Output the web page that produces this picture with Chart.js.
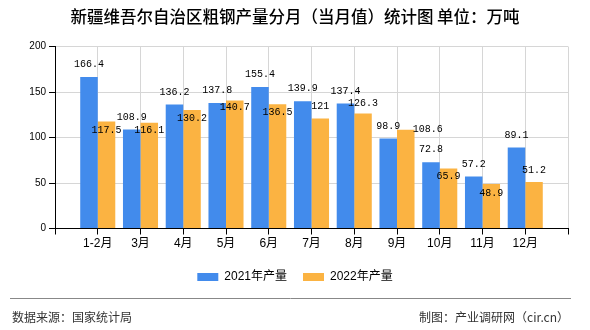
<!DOCTYPE html>
<html>
<head>
<meta charset="utf-8">
<script src="https://cdn.jsdelivr.net/npm/chart.js@4"></script>
<style>
html,body{margin:0;padding:0;background:#fff;}
#c{display:block;}
</style>
</head>
<body>
<canvas id="c" width="590" height="330"></canvas>
<script>
const titleText = '新疆维吾尔自治区粗钢产量分月（当月值）统计图 单位：万吨';
const categories = ['1-2月','3月','4月','5月','6月','7月','8月','9月','10月','11月','12月'];
const series2021 = [166.4,108.9,136.2,137.8,155.4,139.9,137.4,98.9,72.8,57.2,89.1];
const series2022 = [117.5,116.1,130.2,140.7,136.5,121,126.3,108.6,65.9,48.9,51.2];
const seriesNames = ['2021年产量','2022年产量'];
const yTicks = [0,50,100,150,200];
const sourceText = '数据来源：国家统计局';
const creditText = '制图：产业调研网（cir.cn）';

const CJK = "'Noto Sans CJK SC', sans-serif";
const BLUE = '#428BEC';
const ORANGE = '#FBB342';

// padded category axis: empty slot at each end
const labels = [''].concat(categories, ['']);
const pad = arr => [null].concat(arr, [null]);

const valueLabels = {
  id: 'valueLabels',
  afterDatasetsDraw(chart, args, opts) {
    const ctx = chart.ctx;
    ctx.save();
    ctx.font = "10px 'Liberation Mono', 'DejaVu Sans Mono', monospace";
    ctx.fillStyle = '#000';
    ctx.textAlign = 'center';
    ctx.textBaseline = 'middle';
    chart.data.datasets.forEach((ds, di) => {
      const meta = chart.getDatasetMeta(di);
      meta.data.forEach((el, i) => {
        const v = ds.data[i];
        if (v === null || v === undefined) return;
        const k = i - 1;
        let dx = 0, dy = -12.5;
        if (di === 1) { dx = opts.orangeDx[k]; dy = opts.orangeDy[k]; }
        ctx.fillText(String(v), el.x + dx, el.y + dy);
      });
    });
    ctx.restore();
  }
};

const footer = {
  id: 'footer',
  afterDraw(chart) {
    const ctx = chart.ctx;
    ctx.save();
    ctx.strokeStyle = '#888';
    ctx.lineWidth = 1;
    ctx.beginPath();
    ctx.moveTo(10, 298.5);
    ctx.lineTo(571, 298.5);
    ctx.stroke();
    ctx.font = "12px " + CJK;
    ctx.fillStyle = '#333';
    ctx.textBaseline = 'middle';
    ctx.textAlign = 'left';
    ctx.fillText(sourceText, 12, 317);
    ctx.textAlign = 'right';
    ctx.fillText(creditText, 569, 317);
    ctx.restore();
  }
};

new Chart(document.getElementById('c'), {
  type: 'bar',
  data: {
    labels: labels,
    datasets: [
      {label: seriesNames[0], data: pad(series2021), backgroundColor: BLUE, borderWidth: 0},
      {label: seriesNames[1], data: pad(series2022), backgroundColor: ORANGE, borderWidth: 0}
    ]
  },
  options: {
    responsive: false,
    animation: false,
    events: [],
    datasets: {bar: {categoryPercentage: 0.82, barPercentage: 1}},
    layout: {padding: {left: 0, right: 0, top: 0, bottom: 37}},
    plugins: {
      title: {
        display: true, text: titleText, color: '#000',
        font: {size: 16.5, family: CJK, weight: '500'},
        padding: {top: 7.1, bottom: 19.6}
      },
      legend: {
        position: 'bottom',
        labels: {
          boxWidth: 21, boxHeight: 8, padding: 16, color: '#000',
          font: {size: 12, family: "'Liberation Sans', " + CJK}
        }
      },
      tooltip: {enabled: false},
      valueLabels: {
        orangeDx: [0,0,0,0,0,0,0,22,0,0,0],
        orangeDy: [8.5,8,8,7,8,-12,-10,0,8,9,-12]
      }
    },
    scales: {
      x: {
        type: 'category',
        offset: false,
        grid: {color: '#d6d6d6', tickColor: '#000', tickLength: 6, offset: false},
        border: {color: '#000'},
        ticks: {autoSkip: false, maxRotation: 0, minRotation: 0, padding: 2, color: '#000',
          font: {size: 12, family: "'Liberation Sans', " + CJK}},
        afterFit: s => { s.height = 26.5; }
      },
      y: {
        min: 0, max: 200,
        afterBuildTicks: s => { s.ticks = yTicks.map(v => ({value: v})); },
        grid: {color: '#d6d6d6', tickColor: '#000', tickLength: 6},
        border: {color: '#000'},
        ticks: {padding: 3, color: '#000', font: {size: 10, family: "'Liberation Sans', sans-serif"}},
        afterFit: s => { s.width = 55; }
      },
      y2: {
        type: 'linear', position: 'right', display: true,
        grid: {display: false, drawTicks: false},
        border: {display: false},
        ticks: {display: false},
        afterFit: s => { s.width = 22; }
      }
    }
  },
  plugins: [valueLabels, footer]
});
</script>
</body>
</html>
